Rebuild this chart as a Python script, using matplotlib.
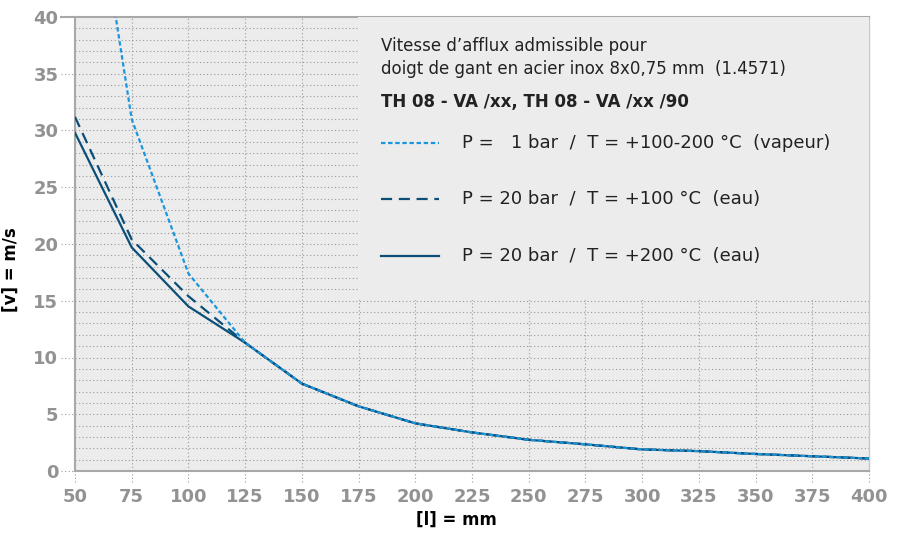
import numpy as np
import matplotlib
matplotlib.use("Agg")
import matplotlib.pyplot as plt
from matplotlib.patches import Rectangle

plt.rcParams['font.family'] = ['DejaVu Sans']

# lengths [mm]
length = [50, 75, 100, 125, 150, 175, 200, 225, 250, 275, 300, 325, 350, 375, 400]
# permissible velocity [m/s]
v_steam = [63.0, 31.0, 17.4, 11.3, 7.7, 5.7, 4.2, 3.4, 2.75, 2.35, 1.9, 1.75, 1.5, 1.3, 1.1]
v_water100 = [31.2, 20.4, 15.4, 11.3, 7.7, 5.7, 4.2, 3.4, 2.75, 2.35, 1.9, 1.75, 1.5, 1.3, 1.1]
v_water200 = [29.8, 19.7, 14.5, 11.3, 7.7, 5.7, 4.2, 3.4, 2.75, 2.35, 1.9, 1.75, 1.5, 1.3, 1.1]

x_ticks = list(range(50, 401, 25))
y_ticks = list(range(0, 41, 5))

title1 = "Vitesse d\u2019afflux admissible pour"
title2 = "doigt de gant en acier inox 8x0,75 mm  (1.4571)"
title3 = "TH 08 - VA /xx, TH 08 - VA /xx /90"
labels = ["P =   1 bar  /  T = +100-200 \u00b0C  (vapeur)",
          "P = 20 bar  /  T = +100 \u00b0C  (eau)",
          "P = 20 bar  /  T = +200 \u00b0C  (eau)"]

c_light = '#1b96dc'
c_dark = '#0b4f78'
c_grey = '#929292'

fig = plt.figure(figsize=(9.02, 5.35), dpi=100)
ax = fig.add_axes([75 / 902, 64 / 535, 794 / 902, 454 / 535])
ax.set_facecolor('#ececec')

ax.set_xlim(50, 400)
ax.set_ylim(0, 40)

# grid
dot = (0, (1, 2.2))
gc = '#9a9a9a'
for y in range(1, 40):
    ax.axhline(y, color=gc, lw=0.8, ls=dot, zorder=1)
for x in x_ticks[1:-1]:
    ax.axvline(x, color=gc, lw=0.8, ls=dot, zorder=1)

# dotted tick marks outside
for y in y_ticks[:-1]:
    ax.plot([-0.018, 0], [y, y], transform=ax.get_yaxis_transform(),
            color=gc, lw=0.8, ls=dot, clip_on=False)
ax.plot([-0.018, 0], [40, 40], transform=ax.get_yaxis_transform(),
        color='#a8a8a8', lw=1.5, clip_on=False)
for x in x_ticks:
    ax.plot([x, x], [-0.025, 0], transform=ax.get_xaxis_transform(),
            color=gc, lw=0.8, ls=dot, clip_on=False)

# curves
ax.plot(length, v_water200, color=c_dark, lw=1.6, zorder=3)
ax.plot(length, v_water100, color=c_dark, lw=1.6, ls=(0, (5, 3)), zorder=3)
ax.plot(length, v_steam, color=c_light, lw=1.6, ls=(0, (2, 1.2)), zorder=4)

# legend box
ax.add_patch(Rectangle((0.357, 0.377), 0.643, 0.623, transform=ax.transAxes,
                       facecolor='#ececec', edgecolor='none', zorder=5))
txt = '#222222'
ax.text(0.386, 0.936, title1, transform=ax.transAxes, fontsize=12,
        color=txt, va='center', zorder=6)
ax.text(0.386, 0.885, title2, transform=ax.transAxes, fontsize=12,
        color=txt, va='center', zorder=6)
ax.text(0.386, 0.813, title3, transform=ax.transAxes, fontsize=12,
        color=txt, fontweight='bold', va='center', zorder=6)

styles = [(c_light, (0, (2, 1.2))), (c_dark, (0, (5, 3))), (c_dark, '-')]
ys = [0.722, 0.599, 0.474]
for (col, ls), yy, lab in zip(styles, ys, labels):
    ax.plot([0.386, 0.459], [yy, yy], transform=ax.transAxes, color=col,
            lw=1.6, ls=ls, zorder=6)
    ax.text(0.487, yy, lab, transform=ax.transAxes, fontsize=13,
            color=txt, va='center', zorder=6)

# spines
for s in ['left', 'bottom', 'top']:
    ax.spines[s].set_color('#a8a8a8')
    ax.spines[s].set_linewidth(1.5)
ax.spines['right'].set_color('#c8c8c8')
ax.spines['right'].set_linewidth(1.0)

ax.set_xticks(x_ticks)
ax.set_yticks(y_ticks)
ax.tick_params(length=0, labelsize=13, labelcolor=c_grey, pad=12)
for lab in ax.get_xticklabels() + ax.get_yticklabels():
    lab.set_fontweight('bold')

ax.set_xlabel('[l] = mm', fontsize=12, fontweight='bold')
ax.set_ylabel('[v] = m/s', fontsize=12, fontweight='bold')
ax.xaxis.set_label_coords(0.48, -0.088)
ax.yaxis.set_label_coords(-0.069, 0.443)

fig.savefig('out.png', dpi=100)
